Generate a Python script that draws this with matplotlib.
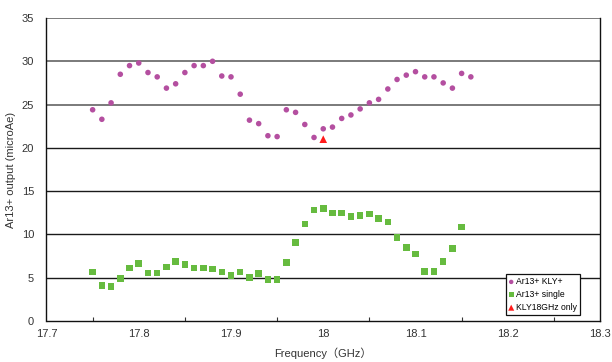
import matplotlib
matplotlib.use("Agg")
import matplotlib.pyplot as plt
import numpy as np

plt.rcParams['font.family'] = ['Liberation Sans', 'Noto Sans CJK JP', 'DejaVu Sans']

freq_kly = [17.75, 17.76, 17.77, 17.78, 17.79, 17.80, 17.81, 17.82, 17.83, 17.84,
            17.85, 17.86, 17.87, 17.88, 17.89, 17.90, 17.91, 17.92, 17.93, 17.94,
            17.95, 17.96, 17.97, 17.98, 17.99, 18.00, 18.01, 18.02, 18.03, 18.04,
            18.05, 18.06, 18.07, 18.08, 18.09, 18.10, 18.11, 18.12, 18.13, 18.14,
            18.15, 18.16]
out_kly = [24.4, 23.3, 25.2, 28.5, 29.5, 29.8, 28.7, 28.2, 26.9, 27.4,
           28.7, 29.5, 29.5, 30.0, 28.3, 28.2, 26.2, 23.2, 22.8, 21.4,
           21.3, 24.4, 24.1, 22.7, 21.2, 22.2, 22.4, 23.4, 23.8, 24.5,
           25.2, 25.6, 26.8, 27.9, 28.4, 28.8, 28.2, 28.2, 27.5, 26.9,
           28.6, 28.2]

freq_single = [17.75, 17.76, 17.77, 17.78, 17.79, 17.80, 17.81, 17.82, 17.83, 17.84,
               17.85, 17.86, 17.87, 17.88, 17.89, 17.90, 17.91, 17.92, 17.93, 17.94,
               17.95, 17.96, 17.97, 17.98, 17.99, 18.00, 18.01, 18.02, 18.03, 18.04,
               18.05, 18.06, 18.07, 18.08, 18.09, 18.10, 18.11, 18.12, 18.13, 18.14,
               18.15]
out_single = [5.66, 4.12, 3.96, 4.89, 6.12, 6.66, 5.54, 5.54, 6.24, 6.85,
              6.55, 6.12, 6.12, 6.0, 5.66, 5.24, 5.66, 5.05, 5.47, 4.77,
              4.77, 6.78, 9.05, 11.2, 12.8, 13.0, 12.48, 12.48, 12.05, 12.17,
              12.36, 11.86, 11.44, 9.67, 8.47, 7.74, 5.74, 5.74, 6.85, 8.35,
              10.86]

freq_only = [18.00]
out_only = [21.0]

labels = ['Ar13+ KLY+', 'Ar13+ single', 'KLY18GHz only']

fig = plt.figure(figsize=(6.12, 3.62), dpi=100)
ax = fig.add_axes([46.5/612, 41/362, (600-46.5)/612, (321-18)/362])

ax.set_xlim(17.7, 18.3)
ax.set_ylim(0, 35)

for yv in [5, 10, 15, 20, 25, 30, 35]:
    c = '#7a7a7a' if yv >= 25 else '#1a1a1a'
    lw = 1.4 if yv >= 25 else 1.0
    ax.axhline(yv, color=c, lw=lw, zorder=1)

ax.scatter(freq_kly, out_kly, s=16, marker='o', color='#B44FA0', edgecolors='none',
           label=labels[0], zorder=3)
ax.scatter(freq_single, out_single, s=22, marker='s', color='#66BB3F', edgecolors='none',
           label=labels[1], zorder=3)
ax.scatter(freq_only, out_only, s=30, marker='^', color='#FF1A1A', edgecolors='none',
           label=labels[2], zorder=3)

ax.set_xticks(np.round(np.arange(17.7, 18.31, 0.1), 2))
ax.set_xticklabels(['17.7', '17.8', '17.9', '18', '18.1', '18.2', '18.3'])
ax.set_xticks(np.round(np.arange(17.75, 18.3, 0.05), 2), minor=True)
ax.set_yticks(range(0, 36, 5))

ax.tick_params(axis='x', which='both', direction='in', length=3, width=0.8,
               colors='#333333', labelsize=8, pad=6, labelcolor='#333333')
ax.tick_params(axis='x', which='major', length=0)
ax.tick_params(axis='y', length=0, labelsize=8, labelcolor='#333333', pad=9)

for s in ['left', 'bottom', 'right']:
    ax.spines[s].set_color('#111111')
    ax.spines[s].set_linewidth(1.0)
ax.spines['top'].set_visible(False)

ax.set_xlabel('Frequency（GHz）', fontsize=8, color='#333333', labelpad=6)
ax.set_ylabel('Ar13+ output (microAe)', fontsize=8, color='#333333', labelpad=4)

leg = ax.legend(loc='lower right', bbox_to_anchor=(0.963, 0.02), fontsize=6.2,
                frameon=True, fancybox=False, edgecolor='#111111', framealpha=1,
                handlelength=0.6, handletextpad=0.2, borderpad=0.35,
                labelspacing=0.45, borderaxespad=0, markerscale=0.8)
leg.get_frame().set_linewidth(0.9)

fig.savefig('out.png', dpi=100)
